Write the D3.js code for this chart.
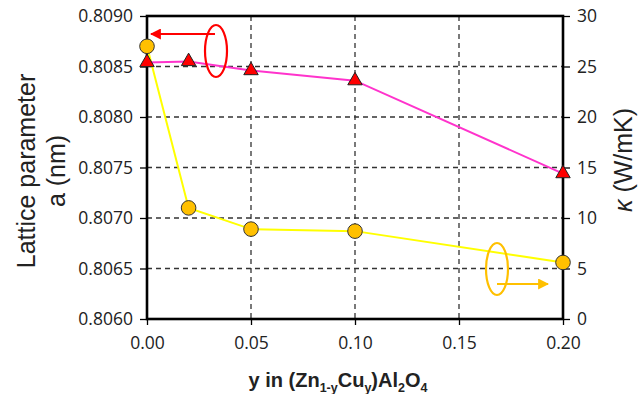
<!DOCTYPE html>
<html>
<head>
<meta charset="utf-8">
<script src="https://cdn.jsdelivr.net/npm/d3@7"></script>
<style>
  body { margin: 0; background: #fff; }
  text { font-family: "Open Sans", "Liberation Sans", sans-serif; }
</style>
</head>
<body>
<div id="chart"></div>
<script>
// Data
const yContent = [0.00, 0.02, 0.05, 0.10, 0.20];
const latticeA = [0.80854, 0.80855, 0.80846, 0.80836, 0.80744];
const kappa = [27.0, 11.0, 8.9, 8.7, 5.6];
const xTicks = [0.00, 0.05, 0.10, 0.15, 0.20];
const leftTicks = [0.8060, 0.8065, 0.8070, 0.8075, 0.8080, 0.8085, 0.8090];
const rightTicks = [0, 5, 10, 15, 20, 25, 30];

const svgWidth = 644;
const svgHeight = 394;
const margin = { top: 16, right: 81, bottom: 75, left: 147 };
const width = svgWidth - margin.left - margin.right;
const height = svgHeight - margin.top - margin.bottom;

const svg = d3.select('#chart').append('svg')
  .attr('width', svgWidth)
  .attr('height', svgHeight);

const g = svg.append('g')
  .attr('transform', `translate(${margin.left}, ${margin.top})`);

const x = d3.scaleLinear().domain([0, 0.2]).range([0, width]);
const yLeft = d3.scaleLinear().domain([0.806, 0.809]).range([height, 0]);
const yRight = d3.scaleLinear().domain([0, 30]).range([height, 0]);

// grid
g.selectAll('.hgrid').data(leftTicks.slice(1, -1)).enter().append('line')
  .attr('x1', 0).attr('x2', width)
  .attr('y1', (d) => yLeft(d)).attr('y2', (d) => yLeft(d))
  .attr('stroke', '#333').attr('stroke-width', 1.3).attr('stroke-dasharray', '5,4');
g.selectAll('.vgrid').data(xTicks.slice(1, -1)).enter().append('line')
  .attr('y1', 0).attr('y2', height)
  .attr('x1', (d) => x(d)).attr('x2', (d) => x(d))
  .attr('stroke', '#333').attr('stroke-width', 1.3).attr('stroke-dasharray', '5,4');

// axes
const leftAxis = g.append('g')
  .call(d3.axisLeft(yLeft).tickValues(leftTicks).tickFormat(d3.format('.4f')).tickSize(7).tickPadding(7));
const rightAxis = g.append('g')
  .attr('transform', `translate(${width}, 0)`)
  .call(d3.axisRight(yRight).tickValues(rightTicks).tickSize(7).tickPadding(7));
const bottomAxis = g.append('g')
  .attr('transform', `translate(0, ${height})`)
  .call(d3.axisBottom(x).tickValues(xTicks).tickFormat(d3.format('.2f')).tickSize(6).tickPadding(12));

[leftAxis, rightAxis, bottomAxis].forEach((a) => {
  a.select('.domain').remove();
  a.selectAll('.tick line').attr('stroke', '#000').attr('stroke-width', 1.3);
  a.selectAll('.tick text').attr('font-size', '17.5px').attr('fill', '#222');
});

// frame
g.append('rect')
  .attr('width', width).attr('height', height)
  .attr('fill', 'none').attr('stroke', '#000').attr('stroke-width', 2.6);

// lines
const latticeLine = d3.line().x((d, i) => x(yContent[i])).y((d) => yLeft(d));
const kappaLine = d3.line().x((d, i) => x(yContent[i])).y((d) => yRight(d));

g.append('path').datum(kappa)
  .attr('d', kappaLine).attr('fill', 'none')
  .attr('stroke', '#ffff00').attr('stroke-width', 2);
g.append('path').datum(latticeA)
  .attr('d', latticeLine).attr('fill', 'none')
  .attr('stroke', '#ff33cc').attr('stroke-width', 2);

// markers
g.selectAll('.tri').data(latticeA).enter().append('path')
  .attr('d', d3.symbol().type(d3.symbolTriangle).size(90))
  .attr('transform', (d, i) => `translate(${x(yContent[i])}, ${yLeft(d)})`)
  .attr('fill', '#ff0000').attr('stroke', '#222').attr('stroke-width', 1);
g.selectAll('.dot').data(kappa).enter().append('circle')
  .attr('cx', (d, i) => x(yContent[i])).attr('cy', (d) => yRight(d))
  .attr('r', 7.3)
  .attr('fill', '#ffc000').attr('stroke', '#333').attr('stroke-width', 1);

// annotations
const defs = svg.append('defs');
function arrowHead(id, color) {
  defs.append('marker').attr('id', id)
    .attr('viewBox', '0 0 10 10').attr('refX', 9).attr('refY', 5)
    .attr('markerWidth', 5).attr('markerHeight', 5)
    .attr('markerUnits', 'strokeWidth').attr('orient', 'auto')
    .append('path').attr('d', 'M0,0 L10,5 L0,10 Z').attr('fill', color);
}
arrowHead('arRed', '#ff0000');
arrowHead('arOrange', '#ffc000');

svg.append('ellipse').attr('cx', 216).attr('cy', 51).attr('rx', 11).attr('ry', 26)
  .attr('fill', 'none').attr('stroke', '#ff0000').attr('stroke-width', 2.2);
svg.append('line').attr('x1', 215).attr('y1', 34).attr('x2', 151).attr('y2', 34)
  .attr('stroke', '#ff0000').attr('stroke-width', 2.2).attr('marker-end', 'url(#arRed)');

svg.append('ellipse').attr('cx', 497).attr('cy', 269).attr('rx', 11).attr('ry', 26)
  .attr('fill', 'none').attr('stroke', '#ffc000').attr('stroke-width', 2.2);
svg.append('line').attr('x1', 497).attr('y1', 284).attr('x2', 548).attr('y2', 284)
  .attr('stroke', '#ffc000').attr('stroke-width', 2.2).attr('marker-end', 'url(#arOrange)');

// axis titles
const leftTitle = svg.append('text')
  .attr('transform', 'translate(0, 171) rotate(-90)')
  .attr('text-anchor', 'middle').attr('font-size', '25px').attr('fill', '#222')
  .style('font-family', '"Liberation Sans", Arial, sans-serif');
leftTitle.append('tspan').attr('x', 0).attr('y', 35).text('Lattice parameter');
leftTitle.append('tspan').attr('x', 0).attr('y', 65).text('a (nm)');

const rightTitle = svg.append('text')
  .attr('transform', 'translate(632, 160) rotate(-90)')
  .attr('text-anchor', 'middle').attr('font-size', '25px').attr('fill', '#222')
  .style('font-family', '"Liberation Sans", Arial, sans-serif');
rightTitle.append('tspan').attr('font-style', 'italic').text('κ');
rightTitle.append('tspan').text(' (W/mK)');

const xTitle = svg.append('text')
  .attr('x', 338).attr('y', 387)
  .attr('text-anchor', 'middle').attr('font-size', '20px').attr('font-weight', 'bold').attr('fill', '#222')
  .style('font-family', '"Liberation Sans", Arial, sans-serif');
xTitle.append('tspan').text('y in (Zn');
xTitle.append('tspan').attr('font-size', '12.5px').attr('dy', 5).text('1-y');
xTitle.append('tspan').attr('dy', -5).text('Cu');
xTitle.append('tspan').attr('font-size', '12.5px').attr('dy', 5).text('y');
xTitle.append('tspan').attr('dy', -5).text(')Al');
xTitle.append('tspan').attr('font-size', '12.5px').attr('dy', 5).text('2');
xTitle.append('tspan').attr('dy', -5).text('O');
xTitle.append('tspan').attr('font-size', '12.5px').attr('dy', 5).text('4');
</script>
</body>
</html>
